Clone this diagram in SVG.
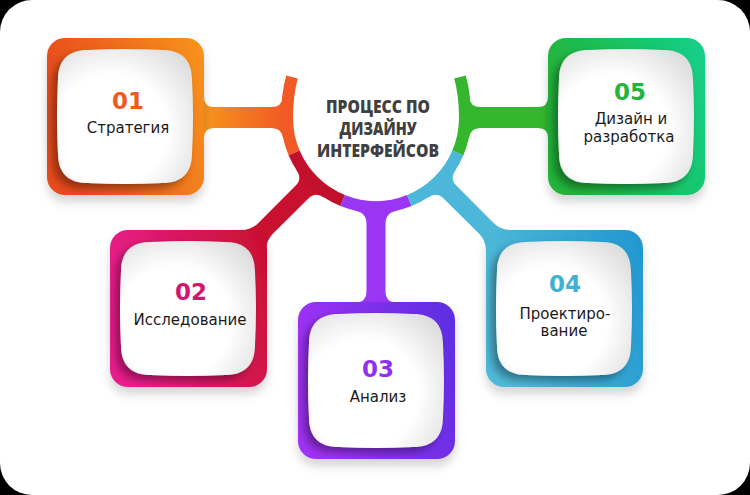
<svg xmlns="http://www.w3.org/2000/svg" width="750" height="495" viewBox="0 0 750 495">
  <style>
    .num { font-family: "DejaVu Sans", "Liberation Sans", sans-serif; font-weight: bold; font-size: 23px; text-anchor: middle; }
    .lbl { font-family: "DejaVu Sans", "Liberation Sans", sans-serif; font-size: 15px; fill: #1b1b1b; text-anchor: middle; }
    .title { font-family: "Open Sans", "Liberation Sans", sans-serif; font-weight: 800; font-size: 17px; fill: #404040; text-anchor: middle; }
    .ring { fill: none; stroke-width: 12; stroke-linecap: butt; }
    .frame { filter: url(#boxShadow); }
    .inner { fill: url(#innerFill); filter: url(#innerShadow); }
  </style>
  <defs>
    <filter id="boxShadow" x="-20%" y="-20%" width="140%" height="150%">
      <feDropShadow dx="0" dy="7" stdDeviation="5" flood-color="#000" flood-opacity="0.16"/>
    </filter>
    <filter id="innerShadow" x="-25%" y="-25%" width="150%" height="150%">
      <feDropShadow dx="-5" dy="5" stdDeviation="4" flood-color="#000" flood-opacity="0.38"/>
    </filter>
    <radialGradient id="innerFill" cx="0.4" cy="0.6" r="0.75">
      <stop offset="0.55" stop-color="#ffffff"/>
      <stop offset="1" stop-color="#dcdcdc"/>
    </radialGradient>
    <linearGradient id="g01" x1="0" y1="0.3" x2="1" y2="0">
      <stop offset="0" stop-color="#e84b1e"/>
      <stop offset="1" stop-color="#f7941d"/>
    </linearGradient>
    <linearGradient id="g02" x1="0" y1="0.3" x2="1" y2="0">
      <stop offset="0" stop-color="#e91e8c"/>
      <stop offset="1" stop-color="#c8102e"/>
    </linearGradient>
    <linearGradient id="g03" x1="0" y1="0.3" x2="1" y2="0">
      <stop offset="0" stop-color="#a030f5"/>
      <stop offset="1" stop-color="#5b2fe0"/>
    </linearGradient>
    <linearGradient id="g04" x1="0" y1="0.3" x2="1" y2="0">
      <stop offset="0" stop-color="#4fbad9"/>
      <stop offset="1" stop-color="#2196d0"/>
    </linearGradient>
    <linearGradient id="g05" x1="0" y1="0.3" x2="1" y2="0">
      <stop offset="0" stop-color="#22b43a"/>
      <stop offset="1" stop-color="#14d08b"/>
    </linearGradient>
    <linearGradient id="barOrange" gradientUnits="userSpaceOnUse" x1="204" y1="0" x2="284" y2="0">
      <stop offset="0" stop-color="#f7941d"/>
      <stop offset="1" stop-color="#f15a24"/>
    </linearGradient>
    <path id="sq" d="M 30,0 Q 67,-2 104,0 C 124,0 134,10 134,30 Q 136,66.5 134,103 C 134,123 124,133 104,133 Q 67,135 30,133 C 10,133 0,123 0,103 Q -2,66.5 0,30 C 0,10 10,0 30,0 Z"/>
  </defs>

  <rect x="0" y="0" width="750" height="495" fill="#000"/>
  <rect x="0" y="0" width="750" height="495" rx="32" ry="32" fill="#fff"/>

  <g id="connectors">
    <path d="M 214,107 L 271.6,107 Q 281.6,107 283.4,97 L 290,100 L 290,135 L 283.1,138 Q 281.5,128 271.5,128 L 214,128 Q 204,128 204,138 L 198,138 L 198,97 L 204,97 Q 204,107 214,107 Z" fill="url(#barOrange)"/>
    <path d="M 538,107 L 480.4,107 Q 470.4,107 468.6,97 L 462,100 L 462,135 L 468.9,138 Q 470.5,128 480.5,128 L 538,128 Q 548,128 548,138 L 554,138 L 554,97 L 548,97 Q 548,107 538,107 Z" fill="#35b62c"/>
    <path d="M 241.3,230 Q 251.3,230 258.4,222.9 L 295.7,185.6 Q 302.7,178.5 296.3,169.7 L 307.8,175.2 L 323.7,190 L 324.3,197.7 Q 315.5,191.3 308.4,198.4 L 273.1,233.6 Q 266,240.7 266,250.7 L 250,245 Z" fill="#c8112f"/>
    <path d="M 510.7,230 Q 500.7,230 493.6,222.9 L 456.3,185.6 Q 449.3,178.5 455.7,169.7 L 444.2,175.2 L 428.3,190 L 427.7,197.7 Q 436.5,191.3 443.6,198.4 L 478.9,233.6 Q 486,240.7 486,250.7 L 502,245 Z" fill="#4cb7d8"/>
    <path d="M 354,210.5 Q 366.5,212 366.5,224 L 366.5,291 Q 366.5,303 354,303 L 398,303 Q 385.5,303 385.5,291 L 385.5,224 Q 385.5,212 398,210.5 L 376,205 Z" fill="#9b35f4"/>
    <path class="ring" stroke="#f15a24" d="M 294.1,152.8 A 89 89 0 0 1 287,118 Q 287,95 292,77"/>
    <path class="ring" stroke="#c0102c" d="M 342.7,200.5 A 89 89 0 0 1 294.1,152.8"/>
    <path class="ring" stroke="#9b35f4" d="M 409.3,200.5 A 89 89 0 0 1 342.7,200.5"/>
    <path class="ring" stroke="#4cb7d8" d="M 457.9,152.8 A 89 89 0 0 1 409.3,200.5"/>
    <path class="ring" stroke="#35b62c" d="M 460,77 Q 465,95 465,118 A 89 89 0 0 1 457.9,152.8"/>
  </g>

  <g id="node-center">
    <text class="title" x="378" y="113" textLength="104" lengthAdjust="spacingAndGlyphs">ПРОЦЕСС ПО</text>
    <text class="title" x="378" y="135" textLength="77" lengthAdjust="spacingAndGlyphs">ДИЗАЙНУ</text>
    <text class="title" x="378" y="157" textLength="122" lengthAdjust="spacingAndGlyphs">ИНТЕРФЕЙСОВ</text>
  </g>

  <g id="node-01">
    <rect class="frame" x="47" y="38" width="157" height="157" rx="18" fill="url(#g01)"/>
    <use href="#sq" x="58" y="50" class="inner"/>
    <text class="num" x="128" y="109" fill="#f05a22">01</text>
    <text class="lbl" x="128" y="133">Стратегия</text>
  </g>

  <g id="node-02">
    <rect class="frame" x="110" y="230" width="157" height="157" rx="18" fill="url(#g02)"/>
    <use href="#sq" x="121" y="242" class="inner"/>
    <text class="num" x="191" y="300" fill="#d4156f">02</text>
    <text class="lbl" x="190" y="325">Исследование</text>
  </g>

  <g id="node-03">
    <rect class="frame" x="298" y="302" width="157" height="157" rx="18" fill="url(#g03)"/>
    <use href="#sq" x="309" y="314" class="inner"/>
    <text class="num" x="378" y="377" fill="#9030f0">03</text>
    <text class="lbl" x="378" y="402">Анализ</text>
  </g>

  <g id="node-04">
    <rect class="frame" x="486" y="230" width="157" height="157" rx="18" fill="url(#g04)"/>
    <use href="#sq" x="497" y="242" class="inner"/>
    <text class="num" x="565" y="292" fill="#3fb0d8">04</text>
    <text class="lbl" x="565" y="319">Проектиро-</text>
    <text class="lbl" x="564" y="336">вание</text>
  </g>

  <g id="node-05">
    <rect class="frame" x="548" y="38" width="157" height="157" rx="18" fill="url(#g05)"/>
    <use href="#sq" x="559" y="50" class="inner"/>
    <text class="num" x="630" y="100" fill="#22b43c">05</text>
    <text class="lbl" x="631" y="124">Дизайн и</text>
    <text class="lbl" x="629" y="142">разработка</text>
  </g>
</svg>
